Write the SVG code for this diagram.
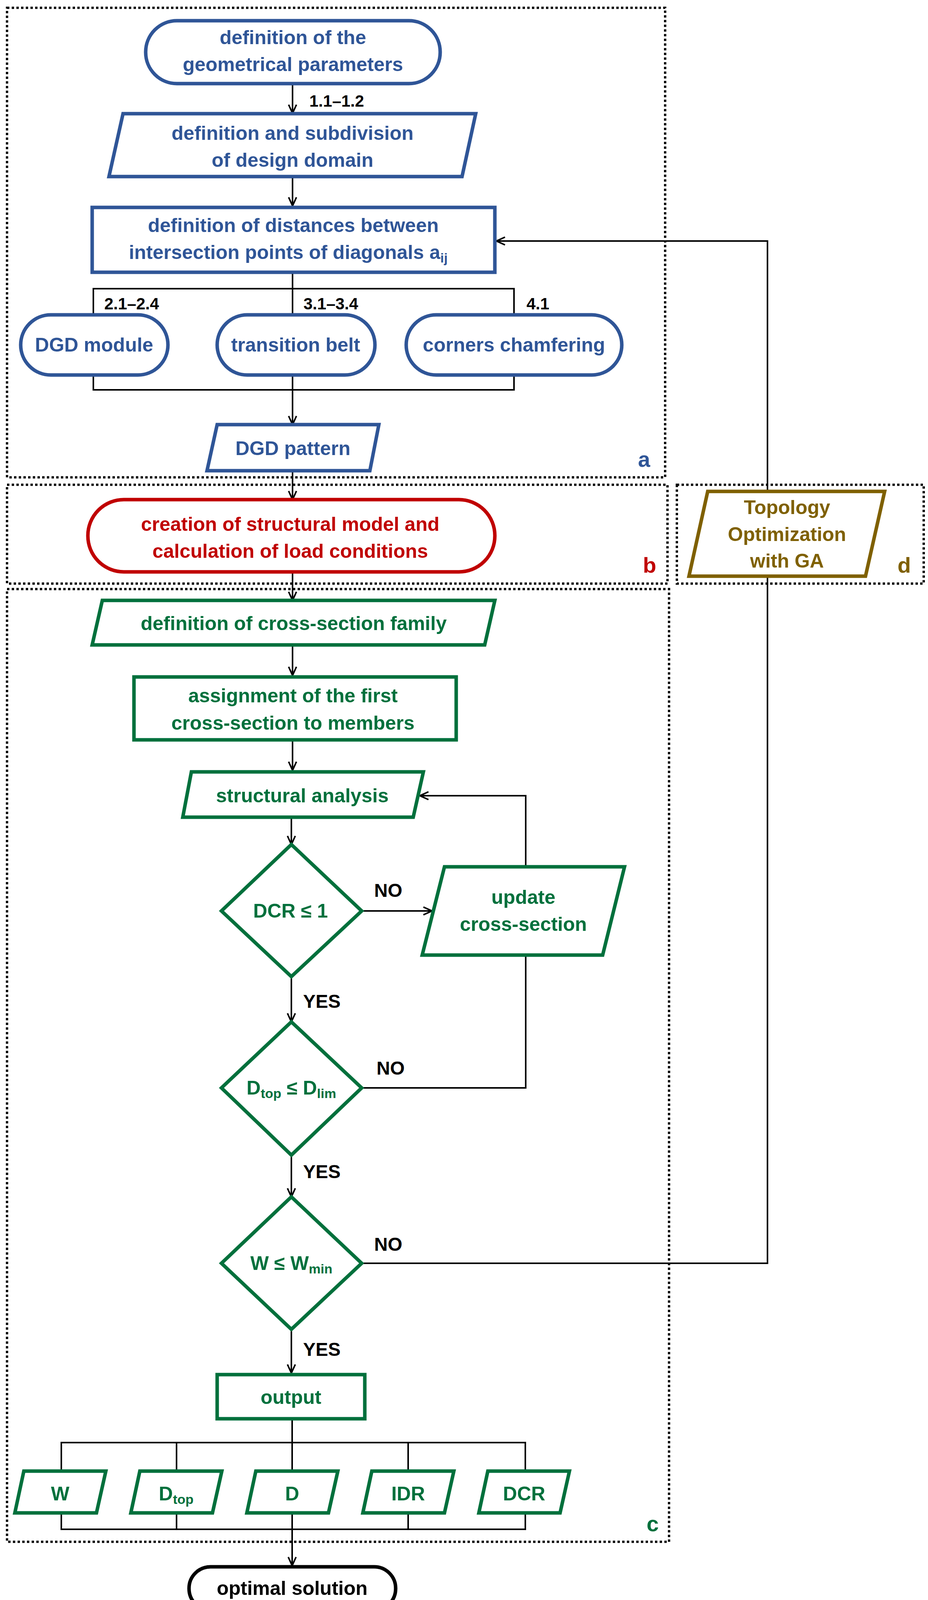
<svg xmlns="http://www.w3.org/2000/svg" width="2376" height="4133" viewBox="0 0 2376 4133">
<defs>
<marker id="ah" markerWidth="30" markerHeight="30" refX="24" refY="12" orient="auto" markerUnits="userSpaceOnUse">
<path d="M2,2 L24,12 L2,22" fill="none" stroke="#000" stroke-width="4"/>
</marker>
</defs>
<style>
text{font-family:"Liberation Sans",Arial,sans-serif;font-weight:bold;text-anchor:middle;dominant-baseline:central}
.t{font-size:50px}
.lb{font-size:42px;fill:#000;text-anchor:start}
.yn{font-size:48px;fill:#000;text-anchor:start}
.bl{fill:#fff;stroke:#2F5597;stroke-width:9}
.bt{fill:#2F5597}
.rd{fill:#fff;stroke:#C00000;stroke-width:9}
.rt{fill:#C00000}
.gn{fill:#fff;stroke:#00703C;stroke-width:9}
.gt{fill:#00703C}
.ol{fill:#fff;stroke:#7F6000;stroke-width:9}
.ot{fill:#7F6000}
.frame{fill:none;stroke:#000;stroke-width:6;stroke-dasharray:6 6}
.c{fill:none;stroke:#000;stroke-width:4}
.a{marker-end:url(#ah)}
.sub{font-size:34px}
</style>
<g id="frames">
<rect class="frame" x="18" y="20" width="1685" height="1202"/>
<rect class="frame" x="18" y="1241" width="1691" height="253"/>
<rect class="frame" x="1733" y="1241" width="632" height="253"/>
<rect class="frame" x="18" y="1508" width="1695" height="2439"/>
<text x="1649" y="1175" style="font-size:56px;fill:#2F5597">a</text>
<text x="1663" y="1446" style="font-size:56px;fill:#C00000">b</text>
<text x="2315" y="1446" style="font-size:56px;fill:#7F6000">d</text>
<text x="1671" y="3900" style="font-size:56px;fill:#00703C">c</text>
</g>
<g id="connectors">
<line class="c a" x1="749" y1="214" x2="749" y2="290"/>
<line class="c a" x1="749" y1="452" x2="749" y2="527"/>
<polyline class="c" points="749,697 749,739"/>
<polyline class="c" points="239,806 239,739 1316,739 1316,806"/>
<line class="c" x1="749" y1="739" x2="749" y2="806"/>
<polyline class="c" points="239,960 239,998 1316,998 1316,960"/>
<line class="c" x1="749" y1="960" x2="749" y2="998"/>
<line class="c a" x1="749" y1="998" x2="749" y2="1087"/>
<line class="c a" x1="749" y1="1205" x2="749" y2="1279"/>
<line class="c a" x1="749" y1="1464" x2="749" y2="1537"/>
<line class="c a" x1="749" y1="1651" x2="749" y2="1729"/>
<line class="c a" x1="749" y1="1894" x2="749" y2="1972"/>
<line class="c a" x1="746" y1="2092" x2="746" y2="2162"/>
<line class="c a" x1="926" y1="2332" x2="1106" y2="2332"/>
<polyline class="c a" points="1346,2219 1346,2037 1075,2037"/>
<polyline class="c" points="1346,2445 1346,2785 926,2785"/>
<line class="c a" x1="746" y1="2500" x2="746" y2="2616"/>
<line class="c a" x1="746" y1="2957" x2="746" y2="3064"/>
<polyline class="c" points="926,3234 1965,3234 1965,1475"/>
<polyline class="c a" points="1965,1258 1965,617 1271,617"/>
<line class="c a" x1="746" y1="3403" x2="746" y2="3515"/>
<line class="c" x1="748" y1="3632" x2="748" y2="3766"/>
<polyline class="c" points="157,3766 157,3693 1345,3693 1345,3766"/>
<line class="c" x1="452" y1="3693" x2="452" y2="3766"/>
<line class="c" x1="1045" y1="3693" x2="1045" y2="3766"/>
<polyline class="c" points="157,3873 157,3915 1345,3915 1345,3873"/>
<line class="c" x1="452" y1="3873" x2="452" y2="3915"/>
<line class="c" x1="1045" y1="3873" x2="1045" y2="3915"/>
<line class="c a" x1="748" y1="3873" x2="748" y2="4008"/>
<text class="lb" x="792" y="258">1.1–1.2</text>
<text class="lb" x="267" y="777">2.1–2.4</text>
<text class="lb" x="777" y="777">3.1–3.4</text>
<text class="lb" x="1348" y="777">4.1</text>
<text class="yn" x="958" y="2279">NO</text>
<text class="yn" x="964" y="2734">NO</text>
<text class="yn" x="958" y="3185">NO</text>
<text class="yn" x="776" y="2563">YES</text>
<text class="yn" x="776" y="2999">YES</text>
<text class="yn" x="776" y="3454">YES</text>
</g>
<g id="n1"><rect class="bl" x="373" y="53" width="754" height="161" rx="80"/>
<text class="t bt" x="750" y="96">definition of the</text><text class="t bt" x="750" y="165">geometrical parameters</text></g>
<g id="n2"><polygon class="bl" points="315,291 1218,291 1183,452 279,452"/>
<text class="t bt" x="749" y="341">definition and subdivision</text><text class="t bt" x="749" y="410">of design domain</text></g>
<g id="n3"><rect class="bl" x="236" y="531" width="1031" height="166"/>
<text class="t bt" x="751" y="577">definition of distances between</text><text class="t bt" x="738" y="646">intersection points of diagonals a<tspan class="sub" dy="14">ij</tspan></text></g>
<g id="n4"><rect class="bl" x="53" y="806" width="377" height="154" rx="77"/><text class="t bt" x="241" y="883">DGD module</text></g>
<g id="n5"><rect class="bl" x="556" y="806" width="404" height="154" rx="77"/><text class="t bt" x="757" y="883">transition belt</text></g>
<g id="n6"><rect class="bl" x="1040" y="806" width="552" height="154" rx="77"/><text class="t bt" x="1316" y="883">corners chamfering</text></g>
<g id="n7"><polygon class="bl" points="556,1087 970,1087 947,1205 530,1205"/><text class="t bt" x="750" y="1148">DGD pattern</text></g>
<g id="n8"><rect class="rd" x="225" y="1279" width="1042" height="185" rx="92"/>
<text class="t rt" x="743" y="1342">creation of structural model and</text><text class="t rt" x="743" y="1411">calculation of load conditions</text></g>
<g id="n9"><polygon class="ol" points="1812,1258 2265,1258 2216,1475 1764,1475"/>
<text class="t ot" x="2015" y="1299">Topology</text><text class="t ot" x="2015" y="1368">Optimization</text><text class="t ot" x="2015" y="1436">with GA</text></g>
<g id="n10"><polygon class="gn" points="262,1537 1267,1537 1241,1651 236,1651"/><text class="t gt" x="752" y="1596">definition of cross-section family</text></g>
<g id="n11"><rect class="gn" x="343" y="1733" width="825" height="161"/>
<text class="t gt" x="750" y="1781">assignment of the first</text><text class="t gt" x="750" y="1851">cross-section to members</text></g>
<g id="n12"><polygon class="gn" points="490,1976 1084,1976 1058,2092 468,2092"/><text class="t gt" x="774" y="2037">structural analysis</text></g>
<g id="n13"><polygon class="gn" points="746,2162 926,2332 746,2500 567,2332"/><text class="t gt" x="744" y="2332">DCR ≤ 1</text></g>
<g id="n14"><polygon class="gn" points="1138,2219 1599,2219 1543,2445 1081,2445"/>
<text class="t gt" x="1340" y="2297">update</text><text class="t gt" x="1340" y="2366">cross-section</text></g>
<g id="n15"><polygon class="gn" points="746,2616 926,2785 746,2957 567,2785"/><text class="t gt" x="746" y="2785">D<tspan class="sub" dy="14">top</tspan><tspan dy="-14"> ≤ D</tspan><tspan class="sub" dy="14">lim</tspan></text></g>
<g id="n16"><polygon class="gn" points="746,3064 926,3234 746,3403 567,3234"/><text class="t gt" x="746" y="3234">W ≤ W<tspan class="sub" dy="14">min</tspan></text></g>
<g id="n17"><rect class="gn" x="556" y="3519" width="378" height="113"/><text class="t gt" x="745" y="3577">output</text></g>
<g id="n18"><polygon class="gn" points="61,3766 271,3766 247,3873 38,3873"/><text class="t gt" x="154" y="3824">W</text></g>
<g id="n19"><polygon class="gn" points="358,3766 568,3766 544,3873 335,3873"/><text class="t gt" x="451" y="3824">D<tspan class="sub" dy="14">top</tspan></text></g>
<g id="n20"><polygon class="gn" points="655,3766 865,3766 841,3873 632,3873"/><text class="t gt" x="748" y="3824">D</text></g>
<g id="n21"><polygon class="gn" points="952,3766 1162,3766 1138,3873 929,3873"/><text class="t gt" x="1045" y="3824">IDR</text></g>
<g id="n22"><polygon class="gn" points="1249,3766 1458,3766 1434,3873 1226,3873"/><text class="t gt" x="1342" y="3824">DCR</text></g>
<g id="n23"><rect x="484" y="4011" width="529" height="111" rx="55" fill="#fff" stroke="#000" stroke-width="9"/><text class="t" x="748" y="4066" fill="#000">optimal solution</text></g>
</svg>
